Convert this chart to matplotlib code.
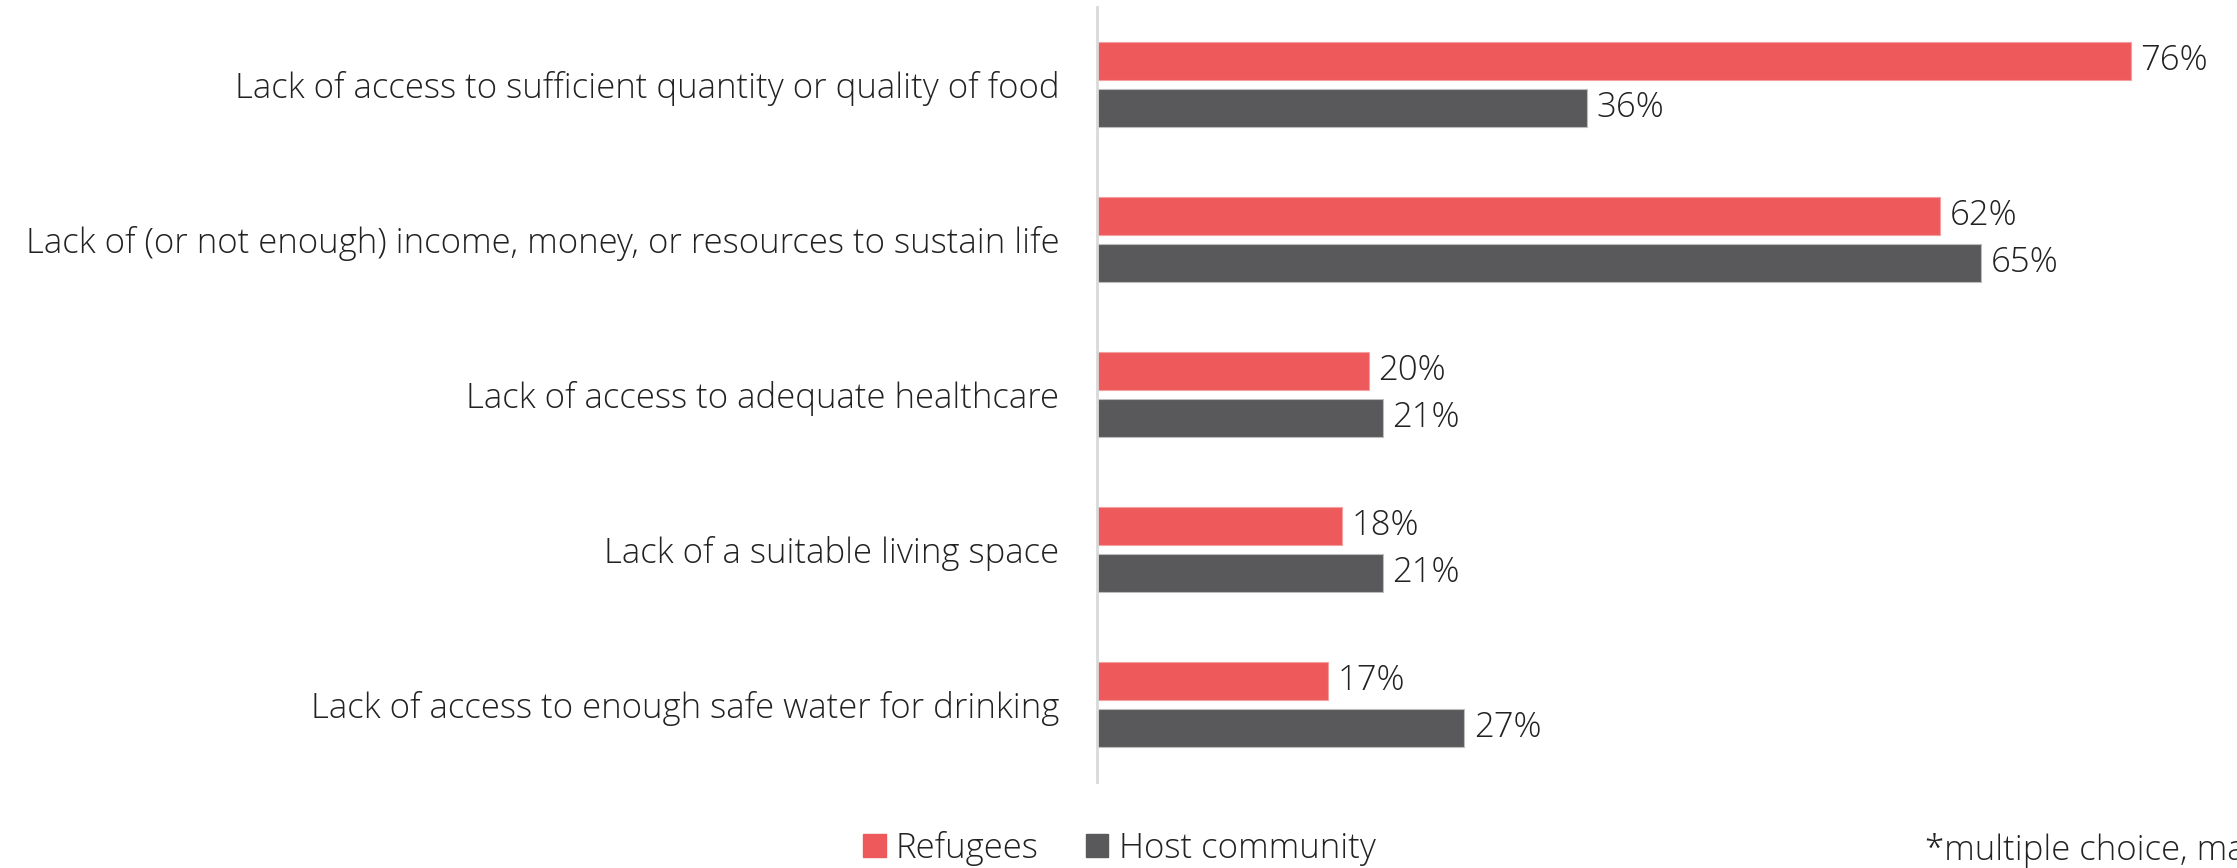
import matplotlib
matplotlib.use("Agg")
import matplotlib.pyplot as plt
from matplotlib.patches import Patch
import numpy as np

categories = [
    "Lack of access to sufficient quantity or quality of food",
    "Lack of (or not enough) income, money, or resources to sustain life",
    "Lack of access to adequate healthcare",
    "Lack of a suitable living space",
    "Lack of access to enough safe water for drinking",
]
refugees = [76, 62, 20, 18, 17]
host = [36, 65, 21, 21, 27]
series_names = ["Refugees", "Host community"]
colors = ["#EE5A5B", "#59595B"]
footnote = "*multiple choice, maximum 3 answers"

W, H = 2237, 868
fig = plt.figure(figsize=(W / 100, H / 100), dpi=100)
FONT = dict(family=["Open Sans", "DejaVu Sans"], weight="light")
FS = 25

ax = fig.add_axes([1097 / W, 1 - 782 / H, 1 - 1097 / W, (782 - 7) / H])
y = np.arange(len(categories))
off = 0.151
bh = 0.25
ax.barh(y - off, refugees, height=bh, color=colors[0], edgecolor="#F4A0A0", linewidth=0.8)
ax.barh(y + off, host, height=bh, color=colors[1], edgecolor="#BDBDBD", linewidth=0.8)
for yi, v in zip(y, refugees):
    ax.text(v + 0.7, yi - off, f"{v}%", va="center", ha="left", fontsize=FS, color="#222222", **FONT)
for yi, v in zip(y, host):
    ax.text(v + 0.7, yi + off, f"{v}%", va="center", ha="left", fontsize=FS, color="#222222", **FONT)

ax.set_xlim(0, (W - 1097) / 13.6)
ax.set_ylim(len(categories) - 0.5, -0.5)
ax.set_yticks(y)
ax.set_yticklabels(categories, fontsize=FS, color="#222222", **FONT)
ax.tick_params(axis="y", length=0, pad=27)
ax.set_xticks([])
for s in ["top", "right", "bottom"]:
    ax.spines[s].set_visible(False)
ax.spines["left"].set_color("#D9D9D9")
ax.spines["left"].set_linewidth(2)

handles = [Patch(facecolor=c, edgecolor=c) for c in colors]
leg = fig.legend(handles, series_names, loc="center left",
                 bbox_to_anchor=(863 / W, 1 - 848 / H), ncol=2, frameon=False,
                 handlelength=0.65, handleheight=0.65, handletextpad=0.3,
                 columnspacing=1.35, borderpad=0, borderaxespad=0,
                 prop=dict(family=["Open Sans", "DejaVu Sans"], weight="light", size=FS))
for t in leg.get_texts():
    t.set_color("#222222")

fig.text(1925 / W, 1 - 850 / H, footnote, ha="left", va="center", fontsize=FS,
         color="#222222", **FONT)

fig.savefig("out.png", dpi=100)
